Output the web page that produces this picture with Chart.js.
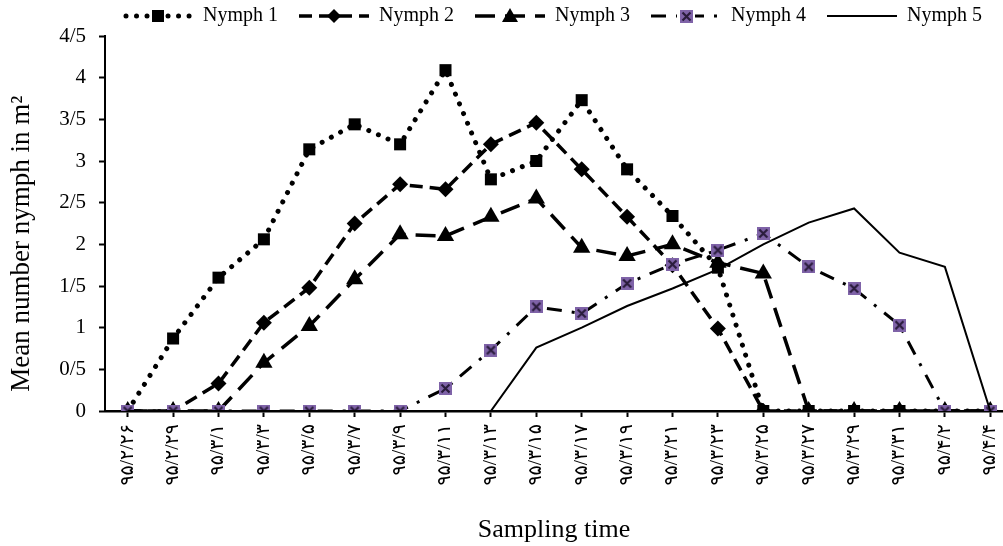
<!DOCTYPE html>
<html>
<head>
<meta charset="utf-8">
<script src="https://cdn.jsdelivr.net/npm/chart.js@4.4.1/dist/chart.umd.min.js"></script>
<style>
    html, body { margin: 0; padding: 0; background: #ffffff; }
</style>
</head>
<body>
<canvas id="chart" width="1003" height="546"></canvas>
<script>

// ############################### DATA ###############################

var sampleDates = ['۹۵/۲/۲۶', '۹۵/۲/۲۹', '۹۵/۳/۱', '۹۵/۳/۳', '۹۵/۳/۵', '۹۵/۳/۷', '۹۵/۳/۹',
    '۹۵/۳/۱۱', '۹۵/۳/۱۳', '۹۵/۳/۱۵', '۹۵/۳/۱۷', '۹۵/۳/۱۹', '۹۵/۳/۲۱', '۹۵/۳/۲۳',
    '۹۵/۳/۲۵', '۹۵/۳/۲۷', '۹۵/۳/۲۹', '۹۵/۳/۳۱', '۹۵/۴/۲', '۹۵/۴/۴'];

var seriesNames = ['Nymph 1', 'Nymph 2', 'Nymph 3', 'Nymph 4', 'Nymph 5'];

var nymph1 = [0, 0.87, 1.6, 2.06, 3.14, 3.44, 3.2, 4.09, 2.78, 3.0, 3.73, 2.9, 2.34, 1.72, 0, 0, 0, 0, 0, 0];
var nymph2 = [0, 0, 0.33, 1.06, 1.48, 2.25, 2.72, 2.66, 3.2, 3.46, 2.9, 2.33, 1.75, 0.99, 0, 0, 0, 0, 0, 0];
var nymph3 = [0, 0, 0, 0.58, 1.02, 1.58, 2.12, 2.1, 2.33, 2.55, 1.96, 1.86, 2.0, 1.78, 1.65, 0, 0, 0, 0, 0];
var nymph4 = [0, 0, 0, 0, 0, 0, 0, 0.27, 0.73, 1.25, 1.17, 1.53, 1.76, 1.93, 2.13, 1.73, 1.47, 1.03, 0, 0];
var nymph5 = [0, 0, 0, 0, 0, 0, 0, 0, 0, 0.76, 1.0, 1.26, 1.47, 1.7, 2.0, 2.26, 2.43, 1.9, 1.73, 0];

var yTickValues = [0, 0.5, 1, 1.5, 2, 2.5, 3, 3.5, 4, 4.5];

// ############################### STYLE ###############################

var serif = "'Times New Roman', 'Liberation Serif', 'DejaVu Sans', serif";
var purple = '#7f63a8';

// purple square with a dark cross, the Nymph 4 marker
function crossBox(size) {
    var c = document.createElement('canvas');
    c.width = size;
    c.height = size;
    var g = c.getContext('2d');
    g.fillStyle = purple;
    g.fillRect(0, 0, size, size);
    g.strokeStyle = '#2a1c3c';
    g.lineWidth = 2.2;
    g.beginPath();
    g.moveTo(2.5, 2.5); g.lineTo(size - 2.5, size - 2.5);
    g.moveTo(size - 2.5, 2.5); g.lineTo(2.5, size - 2.5);
    g.stroke();
    return c;
}

var nymph4Marker = crossBox(13);

var lineLooks = [
    {dash: [0.01, 10.5], width: 5, cap: 'round', marker: 'rect', radius: 8.5},
    {dash: [13, 7], width: 3.5, cap: 'butt', marker: 'rectRot', radius: 8},
    {dash: [20, 10], width: 3.5, cap: 'butt', marker: 'triangle', radius: 10},
    {dash: [15, 10, 3, 10], width: 3, cap: 'butt', marker: nymph4Marker, radius: 7},
    {dash: [], width: 2, cap: 'butt', marker: false, radius: 0}
];

// small picture of line + marker for the legend
function legendSample(look) {
    var c = document.createElement('canvas');
    c.width = 70;
    c.height = 20;
    var g = c.getContext('2d');
    g.strokeStyle = '#000';
    g.lineWidth = look.width;
    g.lineCap = look.cap;
    g.setLineDash(look.dash);
    g.beginPath();
    g.moveTo(look.cap == 'round' ? 3 : 0, 10);
    g.lineTo(70, 10);
    g.stroke();
    g.setLineDash([]);
    g.fillStyle = '#000';
    if (look.marker == 'rect') {
        g.fillRect(29, 4, 12, 12);
    } else if (look.marker == 'rectRot') {
        g.beginPath();
        g.moveTo(35, 3); g.lineTo(42, 10); g.lineTo(35, 17); g.lineTo(28, 10);
        g.closePath(); g.fill();
    } else if (look.marker == 'triangle') {
        g.beginPath();
        g.moveTo(35, 2); g.lineTo(43, 16); g.lineTo(27, 16);
        g.closePath(); g.fill();
    } else if (look.marker) {
        g.clearRect(26, 0, 18, 20);
        g.drawImage(look.marker, 29, 4);
    }
    return c;
}

// ############################### CHART ###############################

var allSeries = [nymph1, nymph2, nymph3, nymph4, nymph5];

var datasets = allSeries.map(function (values, i) {
    var look = lineLooks[i];
    return {
        label: seriesNames[i],
        data: values.map(function (v, k) { return {x: k, y: v}; }),
        borderColor: '#000',
        backgroundColor: '#000',
        borderWidth: look.width,
        borderDash: look.dash,
        borderCapStyle: look.cap,
        tension: 0,
        pointStyle: look.marker,
        pointRadius: look.radius,
        pointBackgroundColor: '#000',
        pointBorderWidth: 0,
        pointHoverRadius: look.radius,
        order: 4 - i
    };
});

new Chart(document.getElementById('chart'), {
    type: 'line',
    data: {datasets: datasets},
    options: {
        responsive: false,
        animation: false,
        events: [],
        layout: {autoPadding: false, padding: {top: -15, left: 0, right: 0, bottom: 0}},
        plugins: {
            tooltip: {enabled: false},
            legend: {
                position: 'top',
                align: 'end',
                labels: {
                    usePointStyle: true,
                    pointStyleWidth: 70,
                    padding: 21,
                    color: '#000',
                    font: {family: serif, size: 20},
                    generateLabels: function (chart) {
                        return chart.data.datasets.map(function (ds, i) {
                            return {
                                text: ds.label,
                                pointStyle: legendSample(lineLooks[i]),
                                fillStyle: '#000',
                                strokeStyle: '#000',
                                lineWidth: 0,
                                hidden: false,
                                datasetIndex: i
                            };
                        });
                    }
                }
            }
        },
        scales: {
            x: {
                type: 'linear',
                min: -0.5,
                max: 19.28,
                afterFit: function (scale) {
                    scale.height = 135;
                    // the rotated labels need no side room
                    scale.paddingLeft = 0;
                    scale.paddingRight = 0;
                },
                border: {color: '#000', width: 2.5},
                grid: {drawOnChartArea: false, tickLength: 6, color: '#000', tickWidth: 2},
                ticks: {
                    stepSize: 1,
                    includeBounds: false,
                    autoSkip: false,
                    minRotation: 90,
                    maxRotation: 90,
                    padding: 7,
                    color: '#000',
                    font: {family: serif, size: 19},
                    callback: function (value) {
                        var k = Math.round(value);
                        if (Math.abs(value - k) > 1e-6 || sampleDates[k] === undefined) return '';
                        return sampleDates[k];
                    }
                },
                title: {
                    display: true,
                    text: 'Sampling time',
                    color: '#000',
                    font: {family: serif, size: 26},
                    padding: {top: 0, bottom: 0}
                }
            },
            y: {
                min: 0,
                max: 4.5,
                afterFit: function (scale) { scale.width = 105; },
                afterBuildTicks: function (scale) {
                    scale.ticks = yTickValues.map(function (v) { return {value: v}; });
                },
                border: {color: '#000', width: 2},
                grid: {drawOnChartArea: false, tickLength: 6, color: '#000', tickWidth: 2},
                ticks: {
                    padding: 13,
                    color: '#000',
                    font: {family: serif, size: 21},
                    callback: function (value) { return String(value).replace('.', '/'); }
                },
                title: {
                    display: true,
                    // trailing spaces push the visible words down like the original
                    text: 'Mean number nymph in m²      ',
                    color: '#000',
                    font: {family: serif, size: 27},
                    padding: {top: 6, bottom: 0}
                }
            }
        }
    }
});
</script>
</body>
</html>
